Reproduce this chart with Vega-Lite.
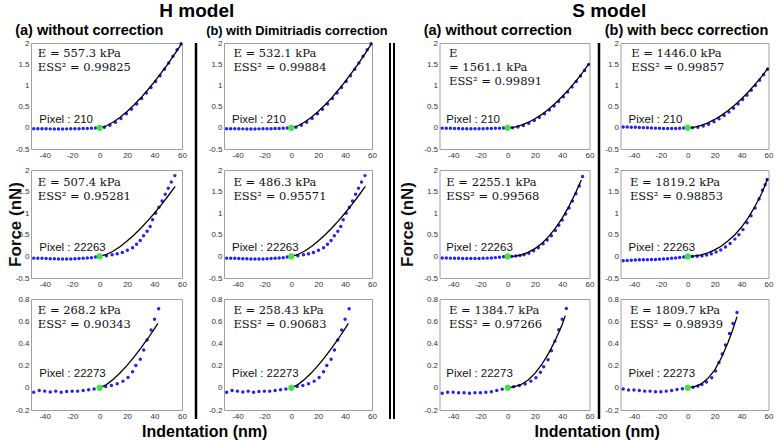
{
"$schema":"https://vega.github.io/schema/vega-lite/v6.json",
"padding":{"left":5,"top":1,"right":2,"bottom":2},
"datasets":{
"dots":[
{"p":"H1","x":-48,"y":-0.02},{"p":"H1","x":-45,"y":-0.021},{"p":"H1","x":-42,"y":-0.022},{"p":"H1","x":-39,"y":-0.024},{"p":"H1","x":-36,"y":-0.025},{"p":"H1","x":-33,"y":-0.026},{"p":"H1","x":-30,"y":-0.026},{"p":"H1","x":-27,"y":-0.026},{"p":"H1","x":-24,"y":-0.025},{"p":"H1","x":-21,"y":-0.024},{"p":"H1","x":-18,"y":-0.022},{"p":"H1","x":-15,"y":-0.02},{"p":"H1","x":-12,"y":-0.018},{"p":"H1","x":-9,"y":-0.015},{"p":"H1","x":-6,"y":-0.012},{"p":"H1","x":-3,"y":-0.007},
{"p":"H1","x":3.5,"y":0.012},{"p":"H1","x":7.5,"y":0.06},{"p":"H1","x":11.5,"y":0.13},{"p":"H1","x":15.5,"y":0.22},{"p":"H1","x":19.5,"y":0.33},{"p":"H1","x":23.2,"y":0.44},{"p":"H1","x":27,"y":0.56},{"p":"H1","x":30.6,"y":0.69},{"p":"H1","x":34,"y":0.82},{"p":"H1","x":37.4,"y":0.95},{"p":"H1","x":40.8,"y":1.09},{"p":"H1","x":44,"y":1.23},{"p":"H1","x":47.2,"y":1.38},{"p":"H1","x":50.3,"y":1.53},{"p":"H1","x":53.4,"y":1.69},{"p":"H1","x":56.4,"y":1.84},{"p":"H1","x":59.3,"y":1.98},
{"p":"H2","x":-48,"y":-0.04},{"p":"H2","x":-45,"y":-0.042},{"p":"H2","x":-42,"y":-0.045},{"p":"H2","x":-39,"y":-0.05},{"p":"H2","x":-36,"y":-0.052},{"p":"H2","x":-33,"y":-0.055},{"p":"H2","x":-30,"y":-0.058},{"p":"H2","x":-27,"y":-0.06},{"p":"H2","x":-24,"y":-0.06},{"p":"H2","x":-21,"y":-0.058},{"p":"H2","x":-18,"y":-0.055},{"p":"H2","x":-15,"y":-0.05},{"p":"H2","x":-12,"y":-0.045},{"p":"H2","x":-9,"y":-0.038},{"p":"H2","x":-6,"y":-0.03},{"p":"H2","x":-3,"y":-0.015},
{"p":"H2","x":4.9,"y":0.015},{"p":"H2","x":9.1,"y":0.04},{"p":"H2","x":12.8,"y":0.06},{"p":"H2","x":16.5,"y":0.09},{"p":"H2","x":20.2,"y":0.14},{"p":"H2","x":24,"y":0.2},{"p":"H2","x":26.9,"y":0.28},{"p":"H2","x":29.6,"y":0.37},{"p":"H2","x":32,"y":0.48},{"p":"H2","x":34.6,"y":0.58},{"p":"H2","x":36.8,"y":0.69},{"p":"H2","x":38.6,"y":0.85},{"p":"H2","x":40.8,"y":1.0},{"p":"H2","x":43.2,"y":1.14},{"p":"H2","x":45.5,"y":1.28},{"p":"H2","x":47.8,"y":1.44},{"p":"H2","x":50,"y":1.58},{"p":"H2","x":52.2,"y":1.72},{"p":"H2","x":54.8,"y":1.87},
{"p":"H3","x":-48,"y":-0.04},{"p":"H3","x":-44,"y":-0.025},{"p":"H3","x":-40,"y":-0.03},{"p":"H3","x":-36,"y":-0.037},{"p":"H3","x":-32,"y":-0.03},{"p":"H3","x":-28,"y":-0.04},{"p":"H3","x":-24,"y":-0.034},{"p":"H3","x":-20,"y":-0.03},{"p":"H3","x":-16,"y":-0.03},{"p":"H3","x":-12,"y":-0.025},{"p":"H3","x":-8,"y":-0.018},{"p":"H3","x":-4,"y":-0.01},
{"p":"H3","x":4.4,"y":0.012},{"p":"H3","x":8.6,"y":0.02},{"p":"H3","x":12.8,"y":0.037},{"p":"H3","x":17,"y":0.06},{"p":"H3","x":20.7,"y":0.092},{"p":"H3","x":24,"y":0.144},{"p":"H3","x":26.4,"y":0.2},{"p":"H3","x":29.6,"y":0.257},{"p":"H3","x":32.1,"y":0.34},{"p":"H3","x":34.6,"y":0.43},{"p":"H3","x":37.5,"y":0.52},{"p":"H3","x":40,"y":0.618},{"p":"H3","x":43,"y":0.713},
{"p":"S1a","x":-48,"y":-0.008},{"p":"S1a","x":-45,"y":-0.01},{"p":"S1a","x":-42,"y":-0.012},{"p":"S1a","x":-39,"y":-0.015},{"p":"S1a","x":-36,"y":-0.018},{"p":"S1a","x":-33,"y":-0.02},{"p":"S1a","x":-30,"y":-0.022},{"p":"S1a","x":-27,"y":-0.022},{"p":"S1a","x":-24,"y":-0.022},{"p":"S1a","x":-21,"y":-0.02},{"p":"S1a","x":-18,"y":-0.02},{"p":"S1a","x":-15,"y":-0.018},{"p":"S1a","x":-12,"y":-0.016},{"p":"S1a","x":-9,"y":-0.013},{"p":"S1a","x":-6,"y":-0.01},{"p":"S1a","x":-3,"y":-0.006},
{"p":"S1a","x":3.5,"y":0.003},{"p":"S1a","x":7.5,"y":0.02},{"p":"S1a","x":11.5,"y":0.055},{"p":"S1a","x":15.5,"y":0.105},{"p":"S1a","x":19.5,"y":0.17},{"p":"S1a","x":23.2,"y":0.245},{"p":"S1a","x":27,"y":0.33},{"p":"S1a","x":30.6,"y":0.42},{"p":"S1a","x":34,"y":0.515},{"p":"S1a","x":37.4,"y":0.62},{"p":"S1a","x":40.8,"y":0.73},{"p":"S1a","x":44,"y":0.845},{"p":"S1a","x":47.2,"y":0.965},{"p":"S1a","x":50.3,"y":1.09},{"p":"S1a","x":53.4,"y":1.22},{"p":"S1a","x":56.4,"y":1.35},{"p":"S1a","x":59.3,"y":1.49},
{"p":"S1b","x":-48,"y":0.02},{"p":"S1b","x":-45,"y":0.018},{"p":"S1b","x":-42,"y":0.015},{"p":"S1b","x":-39,"y":0.012},{"p":"S1b","x":-36,"y":0.008},{"p":"S1b","x":-33,"y":0.004},{"p":"S1b","x":-30,"y":0},{"p":"S1b","x":-27,"y":-0.004},{"p":"S1b","x":-24,"y":-0.008},{"p":"S1b","x":-21,"y":-0.012},{"p":"S1b","x":-18,"y":-0.015},{"p":"S1b","x":-15,"y":-0.017},{"p":"S1b","x":-12,"y":-0.018},{"p":"S1b","x":-9,"y":-0.016},{"p":"S1b","x":-6,"y":-0.012},{"p":"S1b","x":-3,"y":-0.006},
{"p":"S1b","x":3.5,"y":0.0},{"p":"S1b","x":7.5,"y":0.014},{"p":"S1b","x":11.5,"y":0.042},{"p":"S1b","x":15.5,"y":0.085},{"p":"S1b","x":19.5,"y":0.145},{"p":"S1b","x":23.2,"y":0.215},{"p":"S1b","x":27,"y":0.29},{"p":"S1b","x":30.6,"y":0.37},{"p":"S1b","x":34,"y":0.46},{"p":"S1b","x":37.4,"y":0.56},{"p":"S1b","x":40.8,"y":0.665},{"p":"S1b","x":44,"y":0.77},{"p":"S1b","x":47.2,"y":0.885},{"p":"S1b","x":50.3,"y":1.0},{"p":"S1b","x":53.4,"y":1.12},{"p":"S1b","x":56.4,"y":1.25},{"p":"S1b","x":59.3,"y":1.38},
{"p":"S2a","x":-48,"y":-0.035},{"p":"S2a","x":-45,"y":-0.037},{"p":"S2a","x":-42,"y":-0.04},{"p":"S2a","x":-39,"y":-0.042},{"p":"S2a","x":-36,"y":-0.045},{"p":"S2a","x":-33,"y":-0.047},{"p":"S2a","x":-30,"y":-0.048},{"p":"S2a","x":-27,"y":-0.05},{"p":"S2a","x":-24,"y":-0.05},{"p":"S2a","x":-21,"y":-0.048},{"p":"S2a","x":-18,"y":-0.045},{"p":"S2a","x":-15,"y":-0.04},{"p":"S2a","x":-12,"y":-0.035},{"p":"S2a","x":-9,"y":-0.028},{"p":"S2a","x":-6,"y":-0.02},{"p":"S2a","x":-3,"y":-0.01},
{"p":"S2a","x":3,"y":0.0},{"p":"S2a","x":6,"y":0.008},{"p":"S2a","x":9,"y":0.02},{"p":"S2a","x":12,"y":0.04},{"p":"S2a","x":15.5,"y":0.075},{"p":"S2a","x":19,"y":0.13},{"p":"S2a","x":22.5,"y":0.2},{"p":"S2a","x":26,"y":0.29},{"p":"S2a","x":29,"y":0.38},{"p":"S2a","x":32,"y":0.48},{"p":"S2a","x":35,"y":0.6},{"p":"S2a","x":37.5,"y":0.72},{"p":"S2a","x":40,"y":0.84},{"p":"S2a","x":42.5,"y":0.98},{"p":"S2a","x":45,"y":1.12},{"p":"S2a","x":47.5,"y":1.28},{"p":"S2a","x":50,"y":1.45},{"p":"S2a","x":52.5,"y":1.63},{"p":"S2a","x":54.9,"y":1.85},
{"p":"S2b","x":-48,"y":-0.1},{"p":"S2b","x":-45,"y":-0.095},{"p":"S2b","x":-42,"y":-0.09},{"p":"S2b","x":-39,"y":-0.085},{"p":"S2b","x":-36,"y":-0.08},{"p":"S2b","x":-33,"y":-0.077},{"p":"S2b","x":-30,"y":-0.075},{"p":"S2b","x":-27,"y":-0.072},{"p":"S2b","x":-24,"y":-0.07},{"p":"S2b","x":-21,"y":-0.065},{"p":"S2b","x":-18,"y":-0.06},{"p":"S2b","x":-15,"y":-0.055},{"p":"S2b","x":-12,"y":-0.045},{"p":"S2b","x":-9,"y":-0.035},{"p":"S2b","x":-6,"y":-0.025},{"p":"S2b","x":-3,"y":-0.012},
{"p":"S2b","x":3.5,"y":0.0},{"p":"S2b","x":7,"y":0.002},{"p":"S2b","x":10.5,"y":0.012},{"p":"S2b","x":14,"y":0.03},{"p":"S2b","x":17.5,"y":0.06},{"p":"S2b","x":21,"y":0.1},{"p":"S2b","x":24.5,"y":0.15},{"p":"S2b","x":28,"y":0.22},{"p":"S2b","x":31.5,"y":0.3},{"p":"S2b","x":35,"y":0.4},{"p":"S2b","x":38,"y":0.5},{"p":"S2b","x":41,"y":0.62},{"p":"S2b","x":44,"y":0.78},{"p":"S2b","x":47,"y":0.94},{"p":"S2b","x":50,"y":1.12},{"p":"S2b","x":53,"y":1.33},{"p":"S2b","x":55.5,"y":1.53},{"p":"S2b","x":57.5,"y":1.66},{"p":"S2b","x":59,"y":1.78},
{"p":"S3a","x":-48,"y":-0.05},{"p":"S3a","x":-44,"y":-0.04},{"p":"S3a","x":-40,"y":-0.04},{"p":"S3a","x":-36,"y":-0.045},{"p":"S3a","x":-32,"y":-0.045},{"p":"S3a","x":-28,"y":-0.05},{"p":"S3a","x":-24,"y":-0.045},{"p":"S3a","x":-20,"y":-0.045},{"p":"S3a","x":-16,"y":-0.04},{"p":"S3a","x":-12,"y":-0.035},{"p":"S3a","x":-8,"y":-0.025},{"p":"S3a","x":-4,"y":-0.012},
{"p":"S3a","x":4.4,"y":0.01},{"p":"S3a","x":8.6,"y":0.02},{"p":"S3a","x":12.8,"y":0.035},{"p":"S3a","x":17,"y":0.06},{"p":"S3a","x":20.7,"y":0.09},{"p":"S3a","x":24,"y":0.14},{"p":"S3a","x":26.4,"y":0.19},{"p":"S3a","x":29.6,"y":0.252},{"p":"S3a","x":32.1,"y":0.334},{"p":"S3a","x":34.6,"y":0.42},{"p":"S3a","x":37.5,"y":0.523},{"p":"S3a","x":40,"y":0.617},{"p":"S3a","x":43,"y":0.714},
{"p":"S3b","x":-48,"y":-0.01},{"p":"S3b","x":-44,"y":-0.02},{"p":"S3b","x":-40,"y":-0.02},{"p":"S3b","x":-36,"y":-0.025},{"p":"S3b","x":-32,"y":-0.03},{"p":"S3b","x":-28,"y":-0.03},{"p":"S3b","x":-24,"y":-0.035},{"p":"S3b","x":-20,"y":-0.035},{"p":"S3b","x":-16,"y":-0.03},{"p":"S3b","x":-12,"y":-0.025},{"p":"S3b","x":-8,"y":-0.015},{"p":"S3b","x":-4,"y":-0.008},
{"p":"S3b","x":4,"y":0.005},{"p":"S3b","x":7.5,"y":0.015},{"p":"S3b","x":10.5,"y":0.03},{"p":"S3b","x":13.9,"y":0.052},{"p":"S3b","x":17.8,"y":0.091},{"p":"S3b","x":20.7,"y":0.152},{"p":"S3b","x":23.2,"y":0.228},{"p":"S3b","x":25.6,"y":0.304},{"p":"S3b","x":28,"y":0.386},{"p":"S3b","x":31,"y":0.49},{"p":"S3b","x":33.6,"y":0.58},{"p":"S3b","x":36.6,"y":0.678}
],
"fits":[
{"p":"H1","x":0,"y":0},{"p":"H1","x":5,"y":0.048},{"p":"H1","x":10,"y":0.136},{"p":"H1","x":15,"y":0.25},{"p":"H1","x":20,"y":0.385},{"p":"H1","x":25,"y":0.538},{"p":"H1","x":30,"y":0.707},{"p":"H1","x":35,"y":0.891},{"p":"H1","x":40,"y":1.089},{"p":"H1","x":45,"y":1.299},{"p":"H1","x":50,"y":1.521},{"p":"H1","x":55,"y":1.755},{"p":"H1","x":60,"y":2.0},
{"p":"H2","x":0,"y":0},{"p":"H2","x":5,"y":0.044},{"p":"H2","x":10,"y":0.126},{"p":"H2","x":15,"y":0.231},{"p":"H2","x":20,"y":0.355},{"p":"H2","x":25,"y":0.497},{"p":"H2","x":30,"y":0.653},{"p":"H2","x":35,"y":0.822},{"p":"H2","x":40,"y":1.005},{"p":"H2","x":45,"y":1.199},{"p":"H2","x":50,"y":1.404},{"p":"H2","x":55,"y":1.62},
{"p":"H3","x":0,"y":0},{"p":"H3","x":5,"y":0.029},{"p":"H3","x":10,"y":0.077},{"p":"H3","x":15,"y":0.135},{"p":"H3","x":20,"y":0.202},{"p":"H3","x":25,"y":0.276},{"p":"H3","x":30,"y":0.357},{"p":"H3","x":35,"y":0.442},{"p":"H3","x":40,"y":0.534},{"p":"H3","x":42.4,"y":0.58},
{"p":"S1a","x":0,"y":0},{"p":"S1a","x":5,"y":0.017},{"p":"S1a","x":10,"y":0.061},{"p":"S1a","x":15,"y":0.126},{"p":"S1a","x":20,"y":0.212},{"p":"S1a","x":25,"y":0.316},{"p":"S1a","x":30,"y":0.439},{"p":"S1a","x":35,"y":0.58},{"p":"S1a","x":40,"y":0.737},{"p":"S1a","x":45,"y":0.911},{"p":"S1a","x":50,"y":1.102},{"p":"S1a","x":55,"y":1.308},{"p":"S1a","x":60,"y":1.53},
{"p":"S1b","x":0,"y":0},{"p":"S1b","x":5,"y":0.016},{"p":"S1b","x":10,"y":0.057},{"p":"S1b","x":15,"y":0.117},{"p":"S1b","x":20,"y":0.197},{"p":"S1b","x":25,"y":0.293},{"p":"S1b","x":30,"y":0.407},{"p":"S1b","x":35,"y":0.538},{"p":"S1b","x":40,"y":0.684},{"p":"S1b","x":45,"y":0.845},{"p":"S1b","x":50,"y":1.023},{"p":"S1b","x":55,"y":1.214},{"p":"S1b","x":60,"y":1.42},
{"p":"S2a","x":0,"y":0},{"p":"S2a","x":5,"y":0.007},{"p":"S2a","x":10,"y":0.037},{"p":"S2a","x":15,"y":0.093},{"p":"S2a","x":20,"y":0.18},{"p":"S2a","x":25,"y":0.301},{"p":"S2a","x":30,"y":0.458},{"p":"S2a","x":35,"y":0.653},{"p":"S2a","x":40,"y":0.888},{"p":"S2a","x":45,"y":1.164},{"p":"S2a","x":50,"y":1.483},{"p":"S2a","x":54,"y":1.77},
{"p":"S2b","x":0,"y":0},{"p":"S2b","x":5,"y":0.01},{"p":"S2b","x":10,"y":0.035},{"p":"S2b","x":15,"y":0.08},{"p":"S2b","x":20,"y":0.15},{"p":"S2b","x":25,"y":0.24},{"p":"S2b","x":30,"y":0.36},{"p":"S2b","x":35,"y":0.5},{"p":"S2b","x":40,"y":0.68},{"p":"S2b","x":45,"y":0.9},{"p":"S2b","x":50,"y":1.16},{"p":"S2b","x":55,"y":1.46},{"p":"S2b","x":59.3,"y":1.79},
{"p":"S3a","x":0,"y":0},{"p":"S3a","x":5,"y":0.01},{"p":"S3a","x":10,"y":0.03},{"p":"S3a","x":15,"y":0.07},{"p":"S3a","x":20,"y":0.13},{"p":"S3a","x":25,"y":0.21},{"p":"S3a","x":30,"y":0.31},{"p":"S3a","x":35,"y":0.43},{"p":"S3a","x":40,"y":0.57},{"p":"S3a","x":42.2,"y":0.65},
{"p":"S3b","x":0,"y":0},{"p":"S3b","x":5,"y":0.01},{"p":"S3b","x":10,"y":0.035},{"p":"S3b","x":15,"y":0.085},{"p":"S3b","x":20,"y":0.16},{"p":"S3b","x":25,"y":0.27},{"p":"S3b","x":30,"y":0.41},{"p":"S3b","x":33,"y":0.51},{"p":"S3b","x":36.6,"y":0.64}
],
"notes":[
{"p":"H1a","e":"E = 557.3 kPa\nESS² = 0.99825","px":"Pixel : 210"},
{"p":"H1b","e":"E = 532.1 kPa\nESS² = 0.99884","px":"Pixel : 210"},
{"p":"H2a","e":"E = 507.4 kPa\nESS² = 0.95281","px":"Pixel : 22263"},
{"p":"H2b","e":"E = 486.3 kPa\nESS² = 0.95571","px":"Pixel : 22263"},
{"p":"H3a","e":"E = 268.2 kPa\nESS² = 0.90343","px":"Pixel : 22273"},
{"p":"H3b","e":"E = 258.43 kPa\nESS² = 0.90683","px":"Pixel : 22273"},
{"p":"S1a","e":"E\n= 1561.1 kPa\nESS² = 0.99891","px":"Pixel : 210"},
{"p":"S1b","e":"E = 1446.0 kPa\nESS² = 0.99857","px":"Pixel : 210"},
{"p":"S2a","e":"E = 2255.1 kPa\nESS² = 0.99568","px":"Pixel : 22263"},
{"p":"S2b","e":"E = 1819.2 kPa\nESS² = 0.98853","px":"Pixel : 22263"},
{"p":"S3a","e":"E = 1384.7 kPa\nESS² = 0.97266","px":"Pixel : 22273"},
{"p":"S3b","e":"E = 1809.7 kPa\nESS² = 0.98939","px":"Pixel : 22273"}
]
},
"hconcat":[
{"title":{"text":"H model","anchor":"middle","fontSize":19,"offset":2,"dx":0},
 "vconcat":[{"title":{"text":"Indentation (nm)","orient":"bottom","anchor":"middle","fontSize":16,"offset":3,"dx":8},
  "spacing":7,
  "hconcat":[
   {"spacing":5,"vconcat":[
    {"width":151,"height":106,"title":{"text":"(a) without correction","anchor":"start","frame":"bounds","fontSize":14.5,"offset":0.5},
     "layer":[
      {"data":{"name":"dots"},"transform":[{"filter":"datum.p=='H1'"}],"mark":{"type":"circle","size":12,"color":"#2424ee","opacity":1},
       "encoding":{"x":{"field":"x","type":"quantitative","scale":{"domain":[-50,60],"nice":false,"zero":false},"axis":{"values":[-40,-20,0,20,40,60],"title":null,"labelOverlap":false,"tickCount":12}},
                   "y":{"field":"y","type":"quantitative","scale":{"domain":[-0.5,2],"nice":false,"zero":false},"axis":{"values":[-0.5,0,0.5,1,1.5,2],"title":null,"labelOverlap":false,"tickCount":12}}}},
      {"data":{"name":"fits"},"transform":[{"filter":"datum.p=='H1'"}],"mark":{"type":"line","color":"#000","strokeWidth":1.3,"clip":true},"encoding":{"x":{"field":"x","type":"quantitative"},"y":{"field":"y","type":"quantitative"}}},
      {"data":{"values":[{"x":0,"y":0}]},"mark":{"type":"circle","size":38,"color":"#3ee63e","opacity":1},"encoding":{"x":{"field":"x","type":"quantitative"},"y":{"field":"y","type":"quantitative"}}},
      {"data":{"name":"notes"},"transform":[{"filter":"datum.p=='H1a'"}],"mark":{"type":"text","font":"DejaVu Serif","fontSize":11.5,"color":"#111","align":"left","baseline":"alphabetic","dy":14,"lineBreak":"\n","lineHeight":14},"encoding":{"x":{"datum":-45},"y":{"datum":2},"text":{"field":"e"}}},
      {"data":{"name":"notes"},"transform":[{"filter":"datum.p=='H1a'"}],"mark":{"type":"text","font":"Liberation Sans","fontSize":11.5,"color":"#111","align":"left","baseline":"alphabetic","dy":-5},"encoding":{"x":{"datum":-44},"y":{"datum":0},"text":{"field":"px"}}}
     ]},
    {"width":151,"height":108,
     "layer":[
      {"data":{"name":"dots"},"transform":[{"filter":"datum.p=='H2'"}],"mark":{"type":"circle","size":12,"color":"#2424ee","opacity":1},
       "encoding":{"x":{"field":"x","type":"quantitative","scale":{"domain":[-50,60],"nice":false,"zero":false},"axis":{"values":[-40,-20,0,20,40,60],"title":null,"labelOverlap":false,"tickCount":12}},
                   "y":{"field":"y","type":"quantitative","scale":{"domain":[-0.5,2],"nice":false,"zero":false},"axis":{"values":[-0.5,0,0.5,1,1.5,2],"title":"Force (nN)","titlePadding":-8.8,"labelOverlap":false,"tickCount":12}}}},
      {"data":{"name":"fits"},"transform":[{"filter":"datum.p=='H2'"}],"mark":{"type":"line","color":"#000","strokeWidth":1.3,"clip":true},"encoding":{"x":{"field":"x","type":"quantitative"},"y":{"field":"y","type":"quantitative"}}},
      {"data":{"values":[{"x":0,"y":0}]},"mark":{"type":"circle","size":38,"color":"#3ee63e","opacity":1},"encoding":{"x":{"field":"x","type":"quantitative"},"y":{"field":"y","type":"quantitative"}}},
      {"data":{"name":"notes"},"transform":[{"filter":"datum.p=='H2a'"}],"mark":{"type":"text","font":"DejaVu Serif","fontSize":11.5,"color":"#111","align":"left","baseline":"alphabetic","dy":16,"lineBreak":"\n","lineHeight":14},"encoding":{"x":{"datum":-45},"y":{"datum":2},"text":{"field":"e"}}},
      {"data":{"name":"notes"},"transform":[{"filter":"datum.p=='H2a'"}],"mark":{"type":"text","font":"Liberation Sans","fontSize":11.5,"color":"#111","align":"left","baseline":"alphabetic","dy":-5},"encoding":{"x":{"datum":-44},"y":{"datum":0},"text":{"field":"px"}}}
     ]},
    {"width":151,"height":111,
     "layer":[
      {"data":{"name":"dots"},"transform":[{"filter":"datum.p=='H3'"}],"mark":{"type":"circle","size":12,"color":"#2424ee","opacity":1},
       "encoding":{"x":{"field":"x","type":"quantitative","scale":{"domain":[-50,60],"nice":false,"zero":false},"axis":{"values":[-40,-20,0,20,40,60],"title":null,"labelOverlap":false,"tickCount":12}},
                   "y":{"field":"y","type":"quantitative","scale":{"domain":[-0.2,0.8],"nice":false,"zero":false},"axis":{"values":[-0.2,0,0.2,0.4,0.6,0.8],"title":null,"labelOverlap":false,"tickCount":12}}}},
      {"data":{"name":"fits"},"transform":[{"filter":"datum.p=='H3'"}],"mark":{"type":"line","color":"#000","strokeWidth":1.3,"clip":true},"encoding":{"x":{"field":"x","type":"quantitative"},"y":{"field":"y","type":"quantitative"}}},
      {"data":{"values":[{"x":0,"y":0}]},"mark":{"type":"circle","size":38,"color":"#3ee63e","opacity":1},"encoding":{"x":{"field":"x","type":"quantitative"},"y":{"field":"y","type":"quantitative"}}},
      {"data":{"name":"notes"},"transform":[{"filter":"datum.p=='H3a'"}],"mark":{"type":"text","font":"DejaVu Serif","fontSize":11.5,"color":"#111","align":"left","baseline":"alphabetic","dy":15,"lineBreak":"\n","lineHeight":14},"encoding":{"x":{"datum":-45},"y":{"datum":0.8},"text":{"field":"e"}}},
      {"data":{"name":"notes"},"transform":[{"filter":"datum.p=='H3a'"}],"mark":{"type":"text","font":"Liberation Sans","fontSize":11.5,"color":"#111","align":"left","baseline":"alphabetic","dy":-11},"encoding":{"x":{"datum":-44},"y":{"datum":0},"text":{"field":"px"}}}
     ]}
   ]},
   {"vconcat":[{"width":1,"height":376,"title":{"text":" ","fontSize":14.5,"offset":0.5},"view":{"stroke":null},"data":{"values":[{"v":0}]},"mark":{"type":"rule","color":"#000","strokeWidth":2.5},"encoding":{"x":{"field":"v","type":"quantitative","scale":{"domain":[0,1]},"axis":null}}}]},
   {"spacing":5,"vconcat":[
    {"width":148,"height":106,"title":{"text":"(b) with Dimitriadis correction","anchor":"start","frame":"bounds","fontSize":12.8,"offset":1.7,"dx":-2},
     "layer":[
      {"data":{"name":"dots"},"transform":[{"filter":"datum.p=='H1'"}],"mark":{"type":"circle","size":12,"color":"#2424ee","opacity":1},
       "encoding":{"x":{"field":"x","type":"quantitative","scale":{"domain":[-50,60],"nice":false,"zero":false},"axis":{"values":[-40,-20,0,20,40,60],"title":null,"labelOverlap":false,"tickCount":12}},
                   "y":{"field":"y","type":"quantitative","scale":{"domain":[-0.5,2],"nice":false,"zero":false},"axis":{"values":[-0.5,0,0.5,1,1.5,2],"title":null,"labelOverlap":false,"tickCount":12}}}},
      {"data":{"name":"fits"},"transform":[{"filter":"datum.p=='H1'"}],"mark":{"type":"line","color":"#000","strokeWidth":1.3,"clip":true},"encoding":{"x":{"field":"x","type":"quantitative"},"y":{"field":"y","type":"quantitative"}}},
      {"data":{"values":[{"x":0,"y":0}]},"mark":{"type":"circle","size":38,"color":"#3ee63e","opacity":1},"encoding":{"x":{"field":"x","type":"quantitative"},"y":{"field":"y","type":"quantitative"}}},
      {"data":{"name":"notes"},"transform":[{"filter":"datum.p=='H1b'"}],"mark":{"type":"text","font":"DejaVu Serif","fontSize":11.5,"color":"#111","align":"left","baseline":"alphabetic","dy":14,"lineBreak":"\n","lineHeight":14},"encoding":{"x":{"datum":-43},"y":{"datum":2},"text":{"field":"e"}}},
      {"data":{"name":"notes"},"transform":[{"filter":"datum.p=='H1b'"}],"mark":{"type":"text","font":"Liberation Sans","fontSize":11.5,"color":"#111","align":"left","baseline":"alphabetic","dy":-5},"encoding":{"x":{"datum":-44},"y":{"datum":0},"text":{"field":"px"}}}
     ]},
    {"width":148,"height":108,
     "layer":[
      {"data":{"name":"dots"},"transform":[{"filter":"datum.p=='H2'"}],"mark":{"type":"circle","size":12,"color":"#2424ee","opacity":1},
       "encoding":{"x":{"field":"x","type":"quantitative","scale":{"domain":[-50,60],"nice":false,"zero":false},"axis":{"values":[-40,-20,0,20,40,60],"title":null,"labelOverlap":false,"tickCount":12}},
                   "y":{"field":"y","type":"quantitative","scale":{"domain":[-0.5,2],"nice":false,"zero":false},"axis":{"values":[-0.5,0,0.5,1,1.5,2],"title":null,"labelOverlap":false,"tickCount":12}}}},
      {"data":{"name":"fits"},"transform":[{"filter":"datum.p=='H2'"}],"mark":{"type":"line","color":"#000","strokeWidth":1.3,"clip":true},"encoding":{"x":{"field":"x","type":"quantitative"},"y":{"field":"y","type":"quantitative"}}},
      {"data":{"values":[{"x":0,"y":0}]},"mark":{"type":"circle","size":38,"color":"#3ee63e","opacity":1},"encoding":{"x":{"field":"x","type":"quantitative"},"y":{"field":"y","type":"quantitative"}}},
      {"data":{"name":"notes"},"transform":[{"filter":"datum.p=='H2b'"}],"mark":{"type":"text","font":"DejaVu Serif","fontSize":11.5,"color":"#111","align":"left","baseline":"alphabetic","dy":16,"lineBreak":"\n","lineHeight":14},"encoding":{"x":{"datum":-43},"y":{"datum":2},"text":{"field":"e"}}},
      {"data":{"name":"notes"},"transform":[{"filter":"datum.p=='H2b'"}],"mark":{"type":"text","font":"Liberation Sans","fontSize":11.5,"color":"#111","align":"left","baseline":"alphabetic","dy":-5},"encoding":{"x":{"datum":-44},"y":{"datum":0},"text":{"field":"px"}}}
     ]},
    {"width":148,"height":111,
     "layer":[
      {"data":{"name":"dots"},"transform":[{"filter":"datum.p=='H3'"}],"mark":{"type":"circle","size":12,"color":"#2424ee","opacity":1},
       "encoding":{"x":{"field":"x","type":"quantitative","scale":{"domain":[-50,60],"nice":false,"zero":false},"axis":{"values":[-40,-20,0,20,40,60],"title":null,"labelOverlap":false,"tickCount":12}},
                   "y":{"field":"y","type":"quantitative","scale":{"domain":[-0.2,0.8],"nice":false,"zero":false},"axis":{"values":[-0.2,0,0.2,0.4,0.6,0.8],"title":null,"labelOverlap":false,"tickCount":12}}}},
      {"data":{"name":"fits"},"transform":[{"filter":"datum.p=='H3'"}],"mark":{"type":"line","color":"#000","strokeWidth":1.3,"clip":true},"encoding":{"x":{"field":"x","type":"quantitative"},"y":{"field":"y","type":"quantitative"}}},
      {"data":{"values":[{"x":0,"y":0}]},"mark":{"type":"circle","size":38,"color":"#3ee63e","opacity":1},"encoding":{"x":{"field":"x","type":"quantitative"},"y":{"field":"y","type":"quantitative"}}},
      {"data":{"name":"notes"},"transform":[{"filter":"datum.p=='H3b'"}],"mark":{"type":"text","font":"DejaVu Serif","fontSize":11.5,"color":"#111","align":"left","baseline":"alphabetic","dy":15,"lineBreak":"\n","lineHeight":14},"encoding":{"x":{"datum":-43},"y":{"datum":0.8},"text":{"field":"e"}}},
      {"data":{"name":"notes"},"transform":[{"filter":"datum.p=='H3b'"}],"mark":{"type":"text","font":"Liberation Sans","fontSize":11.5,"color":"#111","align":"left","baseline":"alphabetic","dy":-11},"encoding":{"x":{"datum":-44},"y":{"datum":0},"text":{"field":"px"}}}
     ]}
   ]}
  ]}]},
{"title":{"text":"S model","anchor":"middle","fontSize":19,"offset":2,"dx":28},
 "vconcat":[{"title":{"text":"Indentation (nm)","orient":"bottom","anchor":"middle","fontSize":16,"offset":3,"dx":16},
  "spacing":2.5,
  "hconcat":[
   {"vconcat":[{"width":4,"height":376,"title":{"text":" ","fontSize":14.5,"offset":0.5},"view":{"stroke":null},"data":{"values":[{"v":0},{"v":1}]},"mark":{"type":"rule","color":"#000","strokeWidth":2},"encoding":{"x":{"field":"v","type":"quantitative","scale":{"domain":[0,1]},"axis":null}}}]},
   {"spacing":5,"vconcat":[
    {"width":150,"height":106,"title":{"text":"(a) without correction","anchor":"start","frame":"bounds","fontSize":14.5,"offset":0.5},
     "layer":[
      {"data":{"name":"dots"},"transform":[{"filter":"datum.p=='S1a'"}],"mark":{"type":"circle","size":12,"color":"#2424ee","opacity":1},
       "encoding":{"x":{"field":"x","type":"quantitative","scale":{"domain":[-50,60],"nice":false,"zero":false},"axis":{"values":[-40,-20,0,20,40,60],"title":null,"labelOverlap":false,"tickCount":12}},
                   "y":{"field":"y","type":"quantitative","scale":{"domain":[-0.5,2],"nice":false,"zero":false},"axis":{"values":[-0.5,0,0.5,1,1.5,2],"title":null,"labelOverlap":false,"tickCount":12}}}},
      {"data":{"name":"fits"},"transform":[{"filter":"datum.p=='S1a'"}],"mark":{"type":"line","color":"#000","strokeWidth":1.3,"clip":true},"encoding":{"x":{"field":"x","type":"quantitative"},"y":{"field":"y","type":"quantitative"}}},
      {"data":{"values":[{"x":0,"y":0}]},"mark":{"type":"circle","size":38,"color":"#3ee63e","opacity":1},"encoding":{"x":{"field":"x","type":"quantitative"},"y":{"field":"y","type":"quantitative"}}},
      {"data":{"name":"notes"},"transform":[{"filter":"datum.p=='S1a'"}],"mark":{"type":"text","font":"DejaVu Serif","fontSize":11.5,"color":"#111","align":"left","baseline":"alphabetic","dy":14,"lineBreak":"\n","lineHeight":14},"encoding":{"x":{"datum":-43},"y":{"datum":2},"text":{"field":"e"}}},
      {"data":{"name":"notes"},"transform":[{"filter":"datum.p=='S1a'"}],"mark":{"type":"text","font":"Liberation Sans","fontSize":11.5,"color":"#111","align":"left","baseline":"alphabetic","dy":-5},"encoding":{"x":{"datum":-45},"y":{"datum":0},"text":{"field":"px"}}}
     ]},
    {"width":150,"height":108,
     "layer":[
      {"data":{"name":"dots"},"transform":[{"filter":"datum.p=='S2a'"}],"mark":{"type":"circle","size":12,"color":"#2424ee","opacity":1},
       "encoding":{"x":{"field":"x","type":"quantitative","scale":{"domain":[-50,60],"nice":false,"zero":false},"axis":{"values":[-40,-20,0,20,40,60],"title":null,"labelOverlap":false,"tickCount":12}},
                   "y":{"field":"y","type":"quantitative","scale":{"domain":[-0.5,2],"nice":false,"zero":false},"axis":{"values":[-0.5,0,0.5,1,1.5,2],"title":"Force (nN)","titlePadding":7,"labelOverlap":false,"tickCount":12}}}},
      {"data":{"name":"fits"},"transform":[{"filter":"datum.p=='S2a'"}],"mark":{"type":"line","color":"#000","strokeWidth":1.3,"clip":true},"encoding":{"x":{"field":"x","type":"quantitative"},"y":{"field":"y","type":"quantitative"}}},
      {"data":{"values":[{"x":0,"y":0}]},"mark":{"type":"circle","size":38,"color":"#3ee63e","opacity":1},"encoding":{"x":{"field":"x","type":"quantitative"},"y":{"field":"y","type":"quantitative"}}},
      {"data":{"name":"notes"},"transform":[{"filter":"datum.p=='S2a'"}],"mark":{"type":"text","font":"DejaVu Serif","fontSize":11.5,"color":"#111","align":"left","baseline":"alphabetic","dy":16,"lineBreak":"\n","lineHeight":14},"encoding":{"x":{"datum":-45},"y":{"datum":2},"text":{"field":"e"}}},
      {"data":{"name":"notes"},"transform":[{"filter":"datum.p=='S2a'"}],"mark":{"type":"text","font":"Liberation Sans","fontSize":11.5,"color":"#111","align":"left","baseline":"alphabetic","dy":-5},"encoding":{"x":{"datum":-45},"y":{"datum":0},"text":{"field":"px"}}}
     ]},
    {"width":150,"height":111,
     "layer":[
      {"data":{"name":"dots"},"transform":[{"filter":"datum.p=='S3a'"}],"mark":{"type":"circle","size":12,"color":"#2424ee","opacity":1},
       "encoding":{"x":{"field":"x","type":"quantitative","scale":{"domain":[-50,60],"nice":false,"zero":false},"axis":{"values":[-40,-20,0,20,40,60],"title":null,"labelOverlap":false,"tickCount":12}},
                   "y":{"field":"y","type":"quantitative","scale":{"domain":[-0.2,0.8],"nice":false,"zero":false},"axis":{"values":[-0.2,0,0.2,0.4,0.6,0.8],"title":null,"labelOverlap":false,"tickCount":12}}}},
      {"data":{"name":"fits"},"transform":[{"filter":"datum.p=='S3a'"}],"mark":{"type":"line","color":"#000","strokeWidth":1.3,"clip":true},"encoding":{"x":{"field":"x","type":"quantitative"},"y":{"field":"y","type":"quantitative"}}},
      {"data":{"values":[{"x":0,"y":0}]},"mark":{"type":"circle","size":38,"color":"#3ee63e","opacity":1},"encoding":{"x":{"field":"x","type":"quantitative"},"y":{"field":"y","type":"quantitative"}}},
      {"data":{"name":"notes"},"transform":[{"filter":"datum.p=='S3a'"}],"mark":{"type":"text","font":"DejaVu Serif","fontSize":11.5,"color":"#111","align":"left","baseline":"alphabetic","dy":15,"lineBreak":"\n","lineHeight":14},"encoding":{"x":{"datum":-43},"y":{"datum":0.8},"text":{"field":"e"}}},
      {"data":{"name":"notes"},"transform":[{"filter":"datum.p=='S3a'"}],"mark":{"type":"text","font":"Liberation Sans","fontSize":11.5,"color":"#111","align":"left","baseline":"alphabetic","dy":-11},"encoding":{"x":{"datum":-45},"y":{"datum":0},"text":{"field":"px"}}}
     ]}
   ]},
   {"vconcat":[{"width":1,"height":376,"title":{"text":" ","fontSize":14.5,"offset":0.5},"view":{"stroke":null},"data":{"values":[{"v":0}]},"mark":{"type":"rule","color":"#000","strokeWidth":2.5},"encoding":{"x":{"field":"v","type":"quantitative","scale":{"domain":[0,1]},"axis":null}}}]},
   {"spacing":5,"vconcat":[
    {"width":148,"height":106,"title":{"text":"(b) with becc correction","anchor":"start","frame":"bounds","fontSize":14.5,"offset":0.5},
     "layer":[
      {"data":{"name":"dots"},"transform":[{"filter":"datum.p=='S1b'"}],"mark":{"type":"circle","size":12,"color":"#2424ee","opacity":1},
       "encoding":{"x":{"field":"x","type":"quantitative","scale":{"domain":[-50,60],"nice":false,"zero":false},"axis":{"values":[-40,-20,0,20,40,60],"title":null,"labelOverlap":false,"tickCount":12}},
                   "y":{"field":"y","type":"quantitative","scale":{"domain":[-0.5,2],"nice":false,"zero":false},"axis":{"values":[-0.5,0,0.5,1,1.5,2],"title":null,"labelOverlap":false,"tickCount":12}}}},
      {"data":{"name":"fits"},"transform":[{"filter":"datum.p=='S1b'"}],"mark":{"type":"line","color":"#000","strokeWidth":1.3,"clip":true},"encoding":{"x":{"field":"x","type":"quantitative"},"y":{"field":"y","type":"quantitative"}}},
      {"data":{"values":[{"x":0,"y":0}]},"mark":{"type":"circle","size":38,"color":"#3ee63e","opacity":1},"encoding":{"x":{"field":"x","type":"quantitative"},"y":{"field":"y","type":"quantitative"}}},
      {"data":{"name":"notes"},"transform":[{"filter":"datum.p=='S1b'"}],"mark":{"type":"text","font":"DejaVu Serif","fontSize":11.5,"color":"#111","align":"left","baseline":"alphabetic","dy":14,"lineBreak":"\n","lineHeight":14},"encoding":{"x":{"datum":-42},"y":{"datum":2},"text":{"field":"e"}}},
      {"data":{"name":"notes"},"transform":[{"filter":"datum.p=='S1b'"}],"mark":{"type":"text","font":"Liberation Sans","fontSize":11.5,"color":"#111","align":"left","baseline":"alphabetic","dy":-5},"encoding":{"x":{"datum":-44},"y":{"datum":0},"text":{"field":"px"}}}
     ]},
    {"width":148,"height":108,
     "layer":[
      {"data":{"name":"dots"},"transform":[{"filter":"datum.p=='S2b'"}],"mark":{"type":"circle","size":12,"color":"#2424ee","opacity":1},
       "encoding":{"x":{"field":"x","type":"quantitative","scale":{"domain":[-50,60],"nice":false,"zero":false},"axis":{"values":[-40,-20,0,20,40,60],"title":null,"labelOverlap":false,"tickCount":12}},
                   "y":{"field":"y","type":"quantitative","scale":{"domain":[-0.5,2],"nice":false,"zero":false},"axis":{"values":[-0.5,0,0.5,1,1.5,2],"title":null,"labelOverlap":false,"tickCount":12}}}},
      {"data":{"name":"fits"},"transform":[{"filter":"datum.p=='S2b'"}],"mark":{"type":"line","color":"#000","strokeWidth":1.3,"clip":true},"encoding":{"x":{"field":"x","type":"quantitative"},"y":{"field":"y","type":"quantitative"}}},
      {"data":{"values":[{"x":0,"y":0}]},"mark":{"type":"circle","size":38,"color":"#3ee63e","opacity":1},"encoding":{"x":{"field":"x","type":"quantitative"},"y":{"field":"y","type":"quantitative"}}},
      {"data":{"name":"notes"},"transform":[{"filter":"datum.p=='S2b'"}],"mark":{"type":"text","font":"DejaVu Serif","fontSize":11.5,"color":"#111","align":"left","baseline":"alphabetic","dy":16,"lineBreak":"\n","lineHeight":14},"encoding":{"x":{"datum":-43},"y":{"datum":2},"text":{"field":"e"}}},
      {"data":{"name":"notes"},"transform":[{"filter":"datum.p=='S2b'"}],"mark":{"type":"text","font":"Liberation Sans","fontSize":11.5,"color":"#111","align":"left","baseline":"alphabetic","dy":-5},"encoding":{"x":{"datum":-44},"y":{"datum":0},"text":{"field":"px"}}}
     ]},
    {"width":148,"height":111,
     "layer":[
      {"data":{"name":"dots"},"transform":[{"filter":"datum.p=='S3b'"}],"mark":{"type":"circle","size":12,"color":"#2424ee","opacity":1},
       "encoding":{"x":{"field":"x","type":"quantitative","scale":{"domain":[-50,60],"nice":false,"zero":false},"axis":{"values":[-40,-20,0,20,40,60],"title":null,"labelOverlap":false,"tickCount":12}},
                   "y":{"field":"y","type":"quantitative","scale":{"domain":[-0.2,0.8],"nice":false,"zero":false},"axis":{"values":[-0.2,0,0.2,0.4,0.6,0.8],"title":null,"labelOverlap":false,"tickCount":12}}}},
      {"data":{"name":"fits"},"transform":[{"filter":"datum.p=='S3b'"}],"mark":{"type":"line","color":"#000","strokeWidth":1.3,"clip":true},"encoding":{"x":{"field":"x","type":"quantitative"},"y":{"field":"y","type":"quantitative"}}},
      {"data":{"values":[{"x":0,"y":0}]},"mark":{"type":"circle","size":38,"color":"#3ee63e","opacity":1},"encoding":{"x":{"field":"x","type":"quantitative"},"y":{"field":"y","type":"quantitative"}}},
      {"data":{"name":"notes"},"transform":[{"filter":"datum.p=='S3b'"}],"mark":{"type":"text","font":"DejaVu Serif","fontSize":11.5,"color":"#111","align":"left","baseline":"alphabetic","dy":15,"lineBreak":"\n","lineHeight":14},"encoding":{"x":{"datum":-43},"y":{"datum":0.8},"text":{"field":"e"}}},
      {"data":{"name":"notes"},"transform":[{"filter":"datum.p=='S3b'"}],"mark":{"type":"text","font":"Liberation Sans","fontSize":11.5,"color":"#111","align":"left","baseline":"alphabetic","dy":-11},"encoding":{"x":{"datum":-44},"y":{"datum":0},"text":{"field":"px"}}}
     ]}
   ]}
  ]}]}
],
"spacing":0,
"config":{
 "view":{"stroke":"#a0a0a0","strokeWidth":1},
 "axis":{"grid":false,"ticks":false,"domain":false,"labelOverlap":false,"tickCount":12,"labelFont":"Liberation Sans","labelFontSize":8,"labelColor":"#333","labelPadding":2,"labelFlush":false,"labelExpr":"'' + datum.value","titleFont":"Liberation Sans","titleFontSize":17,"titleFontWeight":"bold","titleColor":"#111"},
 "title":{"font":"Liberation Sans","fontWeight":"bold","color":"#000"}
}
}
